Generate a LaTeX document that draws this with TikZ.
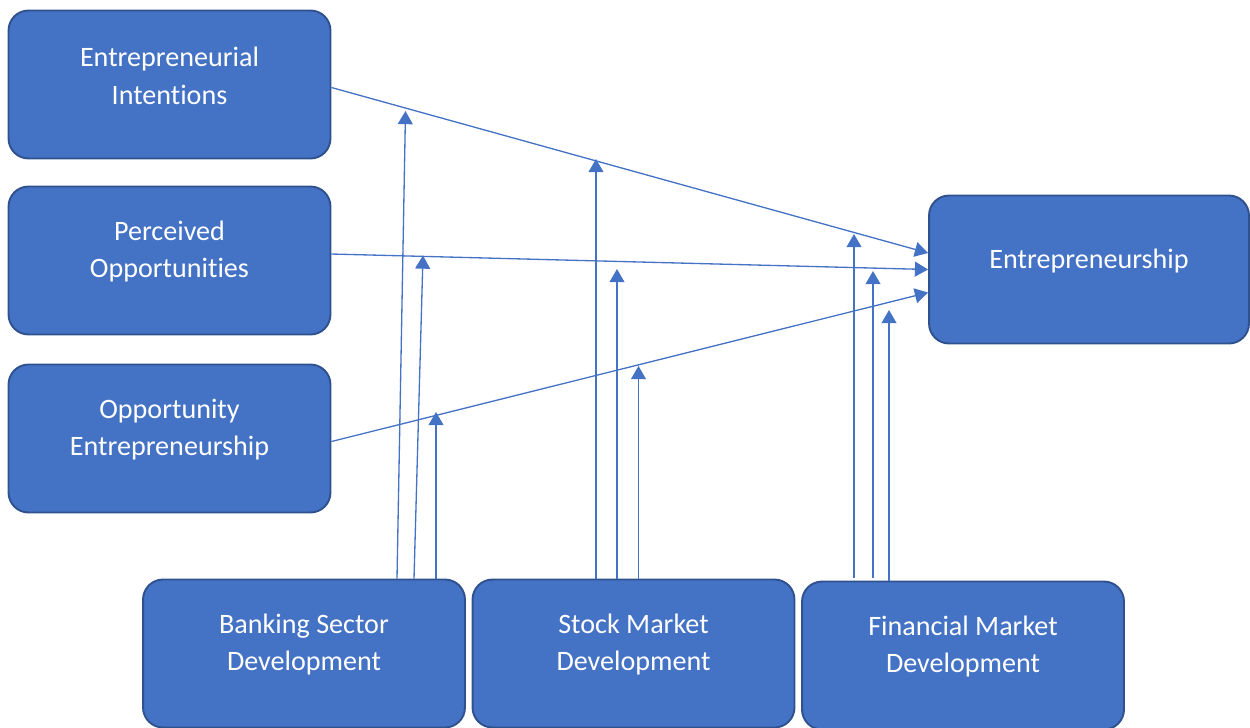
\documentclass[tikz,border=0pt]{standalone}
\usepackage{fontspec}
\setmainfont{Carlito}[RawFeature={-liga}]
\usetikzlibrary{arrows.meta,calc}
\definecolor{boxblue}{HTML}{4472C4}
\definecolor{boxedge}{HTML}{2F528F}
% keep "t" and "i" apart
\newcommand{\nolig}{\kern0pt}
\tikzset{
  box/.style={draw=boxedge,line width=1.1pt,fill=boxblue,rounded corners=0.4cm,
    minimum width=6.44cm,minimum height=2.96cm,inner sep=0pt},
  txt/.style={text=white,align=center,font=\fontsize{16}{21.5}\selectfont},
  conn/.style={draw=boxblue,line width=0.75pt,-{Triangle[width=8.5pt,length=7.5pt]}}
}
\begin{document}
\begin{tikzpicture}[x=0.02cm,y=-0.02cm]
	\useasboundingbox (0,0) rectangle (1250,727);
	% boxes
	\node[box] (ei) at (169.5,84.5) {};
	\node[box] (po) at (169.5,260.5) {};
	\node[box] (oe) at (169.5,438.5) {};
	\node[box,minimum width=6.4cm] (ent) at (1089,269.5) {};
	\node[box] (bank) at (304,653.5) {};
	\node[box] (stock) at (633.5,653.5) {};
	\node[box] (fin) at (963,655.5) {};
	% labels sit a little above the middle
	\node[txt] (eit) at ($(ei.center)+(0,-9)$) {Entrepreneurial\\Intent\nolig ions};
	\node[txt] (pot) at ($(po.center)+(0,-9)$) {Perceived\\Opportunit\nolig ies};
	\node[txt] (oet) at ($(oe.center)+(0,-9)$) {Opportunity\\Entrepreneurship};
	\node[txt] (entt) at ($(ent.center)+(0,-9)$) {Entrepreneurship};
	\node[txt] (bankt) at ($(bank.center)+(0,-9)$) {Banking Sector\\Development};
	\node[txt] (stockt) at ($(stock.center)+(0,-9)$) {Stock Market\\Development};
	\node[txt] (fint) at ($(fin.center)+(0,-9)$) {Financial Market\\Development};
	% direct effects
	\draw[conn] ($(ei.east)+(0,3)$) -- ($(ent.west)+(0,-16.5)$);
	\draw[conn] ($(po.east)+(0,-6.5)$) -- (ent.west);
	\draw[conn] ($(oe.east)+(0,3)$) -- ($(ent.west)+(0,23)$);
	% moderating arrows, tips
	\coordinate (b1) at (405.5,111);
	\coordinate (b2) at (423,255.5);
	\coordinate (b3) at (436,412);
	\coordinate (s1) at (596,159);
	\coordinate (s2) at (617,269);
	\coordinate (s3) at (638.5,366);
	\coordinate (f1) at (854,234);
	\coordinate (f2) at (873,271);
	\coordinate (f3) at (889,310);
	\draw[conn] ($(bank.north)+(93,0)$) -- (b1);
	\draw[conn] ($(bank.north)+(110,0)$) -- (b2);
	\draw[conn] ($(bank.north)+(132,0)$) -- (b3);
	\draw[conn] ($(stock.north)+(-37.5,0)$) -- (s1);
	\draw[conn] ($(stock.north)+(-16.5,0)$) -- (s2);
	\draw[conn] ($(stock.north)+(5,0)$) -- (s3);
	\draw[conn] ($(fin.north)+(-109,-3)$) -- (f1);
	\draw[conn] ($(fin.north)+(-90,-3)$) -- (f2);
	\draw[conn] ($(fin.north)+(-74,0)$) -- (f3);
\end{tikzpicture}
\end{document}
